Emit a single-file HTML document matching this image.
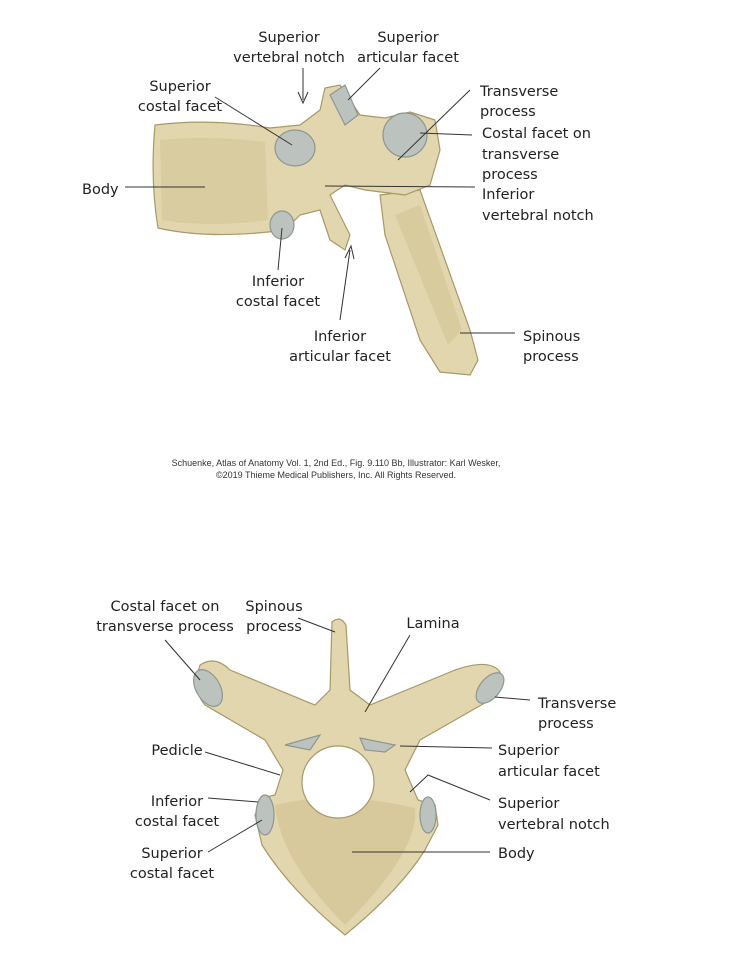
<!DOCTYPE html>
<html><head><meta charset="utf-8"><style>
html,body{margin:0;padding:0;background:#fff;}
svg{display:block}
text{font-family:"DejaVu Sans","Liberation Sans",sans-serif;font-size:14.5px;fill:#222}
.c{font-family:"Liberation Sans",sans-serif;font-size:9px;fill:#333}
.l{stroke:#333;stroke-width:1;fill:none}
.b{fill:#e2d6ae;stroke:#a89868;stroke-width:1.2}
.d{fill:#cdbf8e;stroke:none}
.f{fill:#bcc3bf;stroke:#8e9690;stroke-width:1.2}
</style></head><body>
<svg width="736" height="955" viewBox="0 0 736 955">
<!-- TOP FIGURE -->
<path class="b" d="M380,195 L420,190 L470,330 L478,360 L470,375 L440,372 L420,340 L385,235 Z"/>
<path class="d" d="M395,215 L420,205 L462,330 L448,345 Z" opacity="0.5"/>
<path class="b" d="M155,125 Q210,118 270,128 L300,125 L320,110 L325,88 L340,85 L360,115 L385,118 L410,112 L435,120 L440,150 L430,185 L405,195 L365,190 L345,185 L330,195 L350,235 L345,250 L330,240 L320,210 L300,215 L285,230 Q210,240 158,228 Q150,180 155,125 Z"/>
<path class="d" d="M160,140 Q210,135 265,142 L268,220 Q210,228 162,220 Z" opacity="0.4"/>
<ellipse class="f" cx="295" cy="148" rx="20" ry="18"/>
<ellipse class="f" cx="282" cy="225" rx="12" ry="14"/>
<ellipse class="f" cx="405" cy="135" rx="22" ry="22"/>
<path class="f" d="M330,95 L345,85 L358,115 L345,125 Z"/>
<!-- top labels -->
<text x="289" y="42" text-anchor="middle">Superior</text>
<text x="289" y="62" text-anchor="middle">vertebral notch</text>
<text x="408" y="42" text-anchor="middle">Superior</text>
<text x="408" y="62" text-anchor="middle">articular facet</text>
<text x="180" y="91" text-anchor="middle">Superior</text>
<text x="180" y="111" text-anchor="middle">costal facet</text>
<text x="480" y="96">Transverse</text>
<text x="480" y="116">process</text>
<text x="482" y="138">Costal facet on</text>
<text x="482" y="159">transverse</text>
<text x="482" y="179">process</text>
<text x="82" y="194">Body</text>
<text x="482" y="199">Inferior</text>
<text x="482" y="220">vertebral notch</text>
<text x="278" y="286" text-anchor="middle">Inferior</text>
<text x="278" y="306" text-anchor="middle">costal facet</text>
<text x="340" y="341" text-anchor="middle">Inferior</text>
<text x="340" y="361" text-anchor="middle">articular facet</text>
<text x="523" y="341">Spinous</text>
<text x="523" y="361">process</text>
<path class="l" d="M303,68 L303,100 M298,92 L303,103 L308,92"/>
<path class="l" d="M380,68 L348,100"/>
<path class="l" d="M215,97 L292,145"/>
<path class="l" d="M470,90 L398,160"/>
<path class="l" d="M472,135 L420,133"/>
<path class="l" d="M125,187 L205,187"/>
<path class="l" d="M475,187 L325,186"/>
<path class="l" d="M278,270 L282,228"/>
<path class="l" d="M340,320 L350,250 M345,258 L351,246 L354,259"/>
<path class="l" d="M515,333 L460,333"/>
<text class="c" x="336" y="466" text-anchor="middle">Schuenke, Atlas of Anatomy Vol. 1, 2nd Ed., Fig. 9.110 Bb, Illustrator: Karl Wesker,</text>
<text class="c" x="336" y="478" text-anchor="middle">©2019 Thieme Medical Publishers, Inc. All Rights Reserved.</text>
<!-- BOTTOM FIGURE -->
<path class="b" d="M332,622 Q340,615 346,625 L350,690 L370,705 L455,670 Q490,658 500,672 Q505,690 490,700 L420,740 L405,770 L418,800 L435,805 L438,825 L425,850 Q400,890 345,935 Q290,890 262,845 L255,815 L262,798 L275,795 L283,770 L265,740 L205,705 Q192,690 200,665 Q215,655 230,670 L315,705 L330,690 Z"/>
<path class="d" d="M275,805 Q340,790 415,808 Q420,850 345,925 Q280,860 275,805 Z" opacity="0.55"/>
<circle cx="338" cy="782" r="36" fill="#fff" stroke="#a89868" stroke-width="1.2"/>
<ellipse class="f" cx="208" cy="688" rx="12" ry="20" transform="rotate(-30 208 688)"/>
<ellipse class="f" cx="490" cy="688" rx="10" ry="18" transform="rotate(40 490 688)"/>
<path class="f" d="M285,745 L320,735 L310,750 Z"/>
<path class="f" d="M360,738 L395,745 L385,752 L365,750 Z"/>
<ellipse class="f" cx="265" cy="815" rx="9" ry="20"/>
<ellipse class="f" cx="428" cy="815" rx="8" ry="18"/>
<text x="165" y="611" text-anchor="middle">Costal facet on</text>
<text x="165" y="631" text-anchor="middle">transverse process</text>
<text x="274" y="611" text-anchor="middle">Spinous</text>
<text x="274" y="631" text-anchor="middle">process</text>
<text x="433" y="628" text-anchor="middle">Lamina</text>
<text x="538" y="708">Transverse</text>
<text x="538" y="728">process</text>
<text x="177" y="755" text-anchor="middle">Pedicle</text>
<text x="498" y="755">Superior</text>
<text x="498" y="776">articular facet</text>
<text x="177" y="806" text-anchor="middle">Inferior</text>
<text x="177" y="826" text-anchor="middle">costal facet</text>
<text x="498" y="808">Superior</text>
<text x="498" y="829">vertebral notch</text>
<text x="172" y="858" text-anchor="middle">Superior</text>
<text x="172" y="878" text-anchor="middle">costal facet</text>
<text x="498" y="858">Body</text>
<path class="l" d="M165,640 L200,680"/>
<path class="l" d="M298,618 L335,632"/>
<path class="l" d="M410,635 L365,712"/>
<path class="l" d="M530,700 L495,697"/>
<path class="l" d="M205,752 L280,775"/>
<path class="l" d="M492,748 L400,746"/>
<path class="l" d="M208,798 L258,802"/>
<path class="l" d="M490,800 L428,775 L410,792"/>
<path class="l" d="M208,852 L262,820"/>
<path class="l" d="M490,852 L352,852"/>
</svg>
</body></html>
